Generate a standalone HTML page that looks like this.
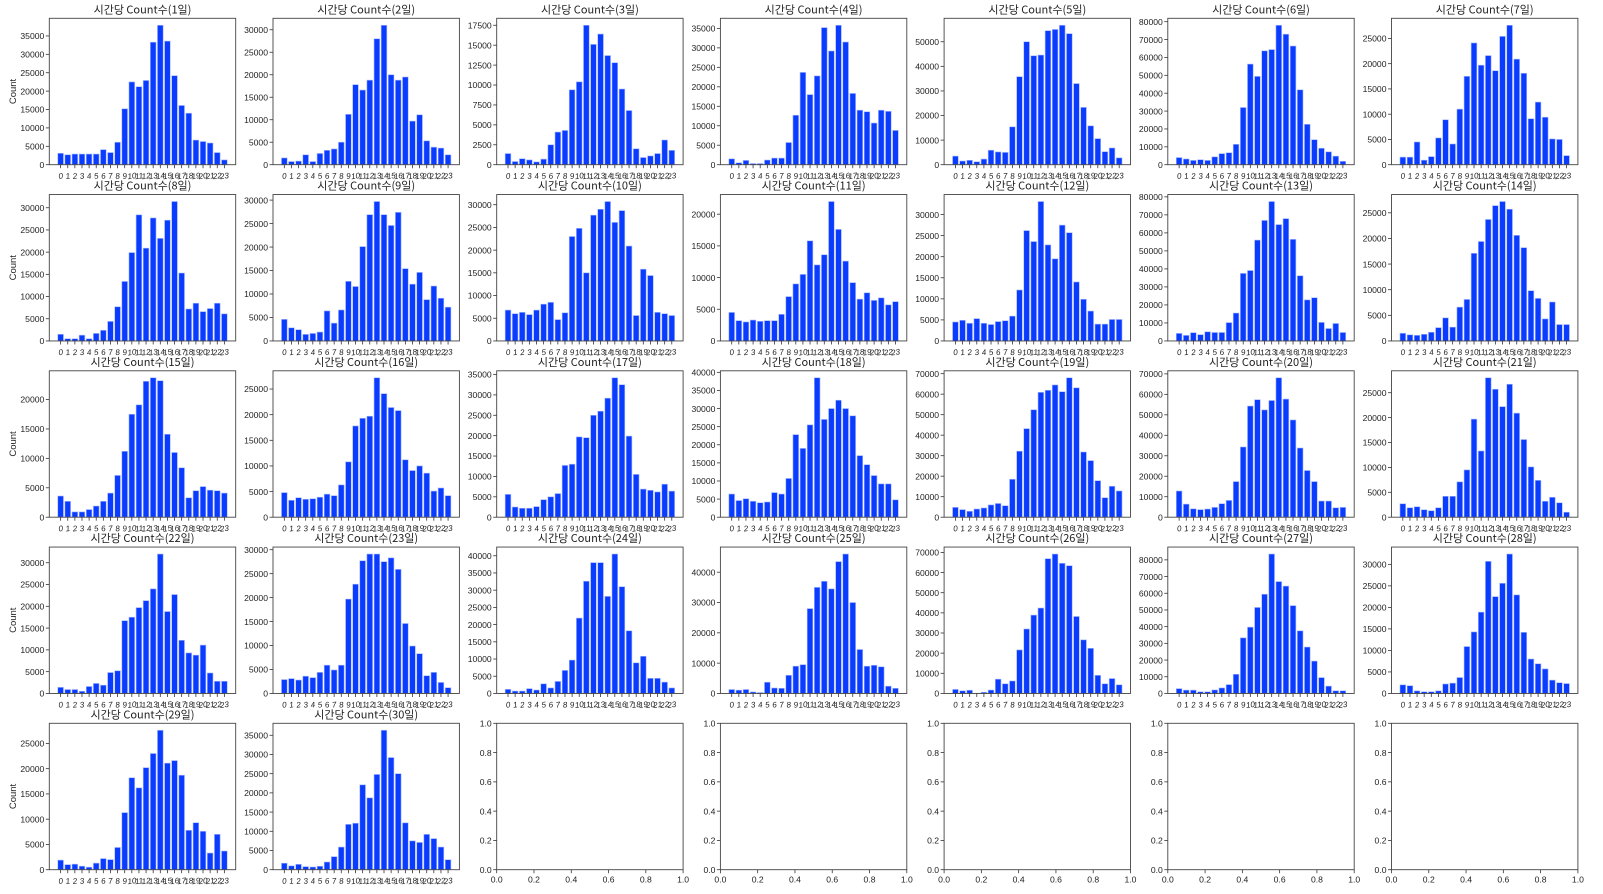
<!DOCTYPE html>
<html><head><meta charset="utf-8">
<style>
html,body{margin:0;padding:0;background:#fff;}
svg{display:block;font-family:"Liberation Sans","Noto Sans CJK KR",sans-serif;}
</style></head>
<body>
<svg id="chart" width="1603" height="894" viewBox="0 0 1603 894"></svg>
<script>
const hours=[0,1,2,3,4,5,6,7,8,9,10,11,12,13,14,15,16,17,18,19,20,21,22,23];
const day1=[3100,2700,2900,2900,2900,2900,4100,3300,6100,15200,22500,21200,22900,33300,37900,33600,24200,16100,14000,6700,6300,5900,3300,1300];
const day2=[1500,700,800,2200,700,2500,3200,3500,5000,11200,17800,16600,18800,28000,31000,20000,18800,19500,9700,11100,5300,3900,3700,2200];
const day3=[1400,400,750,600,350,700,2500,4100,4300,9400,10400,17500,15100,16400,13700,12800,9500,6800,2000,900,1100,1400,3100,1800];
const day4=[1500,500,1100,300,300,1200,1700,1700,5700,12700,23700,18000,22800,35200,29200,35800,31500,18300,14000,13600,10700,14000,13700,8800];
const day5=[3500,1500,1800,1200,2300,5900,5200,5000,15400,35800,50000,44300,44600,54500,55000,56700,53300,33000,23300,15800,10600,5300,6800,2800];
const day6=[4000,3200,2400,2800,2400,4400,6200,6700,11400,32000,56300,49400,63700,64400,78000,73000,66400,41900,22600,14000,9200,7200,4800,1900];
const day7=[1500,1500,4500,900,1600,5300,8900,4100,11000,17500,24100,19700,21600,18600,25400,27600,20900,18100,9100,12400,9400,5100,5000,1800];
const day8=[1500,500,500,1300,500,1700,2400,4400,7700,13400,19900,28400,20900,27700,23100,27200,31400,15300,7200,8500,6600,7300,8500,6100];
const day9=[4600,2800,2400,1400,1600,1900,6400,3800,6600,12700,11600,20100,26900,29700,26900,24600,27400,15400,12100,14600,8800,11700,9100,7200];
const day10=[6800,6000,6300,5800,6800,8100,8500,4700,6200,23000,24800,15000,27700,29000,30700,26100,28700,20900,5600,15800,14400,6300,6000,5600];
const day11=[4500,3200,3000,3300,3100,3200,3200,4200,7000,9000,10500,15800,12000,13600,22000,17600,12600,9200,6600,7600,6400,6800,5700,6200];
const day12=[4500,4900,4200,5300,4200,3900,4600,4800,5900,12100,26200,23600,33100,22800,19500,27500,25700,14000,9900,7100,4000,4000,5100,5100];
const day13=[4200,3100,4600,3500,5100,4700,4700,10200,15500,37500,39100,56000,66900,77400,64600,67900,56400,36200,22800,24000,10300,6900,9700,4700];
const day14=[1500,1200,1100,1300,1700,2600,4500,2700,6600,8100,17100,19400,23700,26400,27200,25700,20600,18200,9800,8300,4300,7600,3200,3200];
const day15=[3600,2700,900,900,1300,1900,2700,4100,7100,11200,17500,19100,23100,23700,23200,14100,11000,8400,3300,4500,5200,4600,4500,4100];
const day16=[4800,3300,3800,3500,3600,3900,4500,4200,6300,10800,17800,19300,19700,27200,24100,21400,20800,11200,9100,10000,8600,5100,5700,4200];
const day17=[5600,2500,2200,2200,2600,4300,5000,5800,12700,13000,19700,19500,25000,26000,29200,34200,32500,19900,10500,6900,6600,6200,8100,6400];
const day18=[6400,4600,5100,4400,4000,4200,6800,6400,10700,22800,19000,25500,38500,27000,30000,32300,30000,28000,17000,14500,11500,9200,9200,4800];
const day19=[4800,3700,2900,4000,4500,6000,6700,5600,18500,32200,43200,52400,60900,61900,64500,61200,68000,63100,31800,27600,17800,9500,15100,12800];
const day20=[12800,6400,4100,3700,4000,4800,6600,8200,17400,34300,54300,57400,52400,57000,68100,57700,47500,33800,22800,17400,7900,7900,4600,4800];
const day21=[2700,1900,2100,1500,1300,1900,4200,4200,7100,9500,19700,13300,28000,25700,22200,26700,20900,15600,10100,7400,3200,4000,2900,1000];
const day22=[1400,900,900,500,1600,2300,1900,4800,5200,16700,17500,19700,21300,24000,32000,18800,22700,12200,9300,8800,11100,4700,2800,2800];
const day23=[2900,3100,2800,3600,3300,4400,5900,4900,5900,19700,22800,27700,29100,29100,27500,28300,25900,14600,9900,8300,3700,4400,2300,1200];
const day24=[1200,700,700,1400,1000,2800,1600,3500,6700,9700,21900,32600,38000,38000,28200,40500,31000,18200,8900,10800,4400,4400,3300,1600];
const day25=[1300,1100,1300,500,300,3700,1800,1700,6000,9000,9500,28000,35000,37000,34500,43500,46000,30000,14500,9000,9300,8800,2400,1700];
const day26=[2000,1300,1600,100,600,1700,7100,4800,6200,21600,32000,38900,42400,66900,69200,64600,63400,38200,26600,22400,9000,4800,7400,4300];
const day27=[2900,2000,2000,1000,1000,2100,3300,5300,11500,33300,39700,51500,59400,83500,67000,64300,52600,37500,27800,19400,9500,4400,1600,1600];
const day28=[2000,1800,600,400,400,600,2200,2400,3700,10900,14300,18900,30700,22500,25600,32400,22900,14200,8000,6900,5700,3100,2500,2300];
const day29=[1900,1000,1100,700,500,1300,2200,2000,4400,11300,18200,16200,20200,23000,27600,21100,21600,18700,7800,9300,7600,3300,7000,3700];
const day30=[1700,1000,1400,800,700,900,2000,3400,5900,11800,12100,22100,18700,24800,36300,29200,25000,12200,7500,7100,9200,8100,5900,2600];
const days=[day1,day2,day3,day4,day5,day6,day7,day8,day9,day10,day11,day12,day13,day14,day15,day16,day17,day18,day19,day20,day21,day22,day23,day24,day25,day26,day27,day28,day29,day30];
const emptyTicks=[0,0.2,0.4,0.6,0.8,1.0];

const NS="http://www.w3.org/2000/svg";
const svg=document.getElementById('chart');
function mk(tag,attrs,parent){const e=document.createElementNS(NS,tag);for(const k in attrs)e.setAttribute(k,attrs[k]);(parent||svg).appendChild(e);return e;}

const L0=49.3,T0=18.3,DX=223.7,DY=176.25,W=186.4,H=146.4;

function niceStep(ymax){
  const steps=[1,2,2.5,5,10];
  let mag=Math.pow(10,Math.floor(Math.log10(ymax))-2);
  for(let m=0;m<6;m++){
    for(const s of steps){const st=s*mag;if(Math.floor(ymax/st)+1<=9)return st;}
    mag*=10;
  }
  return ymax;
}

for(let i=0;i<35;i++){
  const r=Math.floor(i/7),c=i%7;
  const x0=L0+c*DX,y0=T0+r*DY;
  const g=mk('g',{});
  
  
  if(i<30){
    const data=days[i];
    const ymax=Math.max(...data)*1.05;
    const xmin=-1.59,xmax=24.59;
    const sx=v=>x0+(v-xmin)/(xmax-xmin)*W;
    const sy=v=>y0+H-v/ymax*H;
    hours.forEach((h,j)=>{
      const b=mk('rect',{x:sx(h-0.4),y:sy(data[j]),width:sx(h+0.4)-sx(h-0.4),height:sy(0)-sy(data[j]),fill:'#0a3cff',stroke:'#a8b8ff','stroke-width':0.6},g);
      
      
    });
    const st=niceStep(ymax);
    for(let v=0;v<=ymax+1e-9;v+=st){
      const y=sy(v);
      mk('line',{x1:x0-3.5,x2:x0,y1:y,y2:y,stroke:'#333','stroke-width':0.8},g);
      const t=mk('text',{x:x0-5,y:y+3.2,'font-size':8.6,'text-anchor':'end',fill:'#222'},g);
      t.textContent=String(Math.round(v*10)/10);
      
      
    }
    hours.forEach(h=>{
      const x=sx(h);
      mk('line',{x1:x,x2:x,y1:y0+H,y2:y0+H+3.5,stroke:'#333','stroke-width':0.8},g);
      const t=mk('text',{x:x,y:y0+H+14,'font-size':8,'text-anchor':'middle',fill:'#222',transform:'rotate(-8 '+x+' '+(y0+H+11)+')','font-style':'italic'},g);
      t.textContent=String(h);
      
      
    });
    const tt=mk('text',{x:x0+W/2,y:y0-5,'font-size':11,'text-anchor':'middle',fill:'#222','font-family':'"Noto Sans CJK KR","Liberation Sans",sans-serif'},g);
    tt.textContent='시간당 Count수('+(i+1)+'일)';
    
    
    if(c===0){
      const yl=mk('text',{x:0,y:0,'font-size':9.5,'text-anchor':'middle',fill:'#222',transform:'translate(16 '+(y0+H/2)+') rotate(-90)'},g);
      yl.textContent='Count';
      
      
    }
  } else {
    emptyTicks.forEach(v=>{
      const y=y0+H-v*H,x=x0+v*W;
      mk('line',{x1:x0-3.5,x2:x0,y1:y,y2:y,stroke:'#333','stroke-width':0.8},g);
      const t=mk('text',{x:x0-5,y:y+3.2,'font-size':8.6,'text-anchor':'end',fill:'#222'},g);
      t.textContent=v.toFixed(1);
      
      
      mk('line',{x1:x,x2:x,y1:y0+H,y2:y0+H+3.5,stroke:'#333','stroke-width':0.8},g);
      const t2=mk('text',{x:x,y:y0+H+13,'font-size':8.6,'text-anchor':'middle',fill:'#222'},g);
      t2.textContent=v.toFixed(1);
      
      
    });
  }
  mk('rect',{x:x0,y:y0,width:W,height:H,fill:'none',stroke:'#444','stroke-width':0.9},g);
}
</script>
</body></html>
